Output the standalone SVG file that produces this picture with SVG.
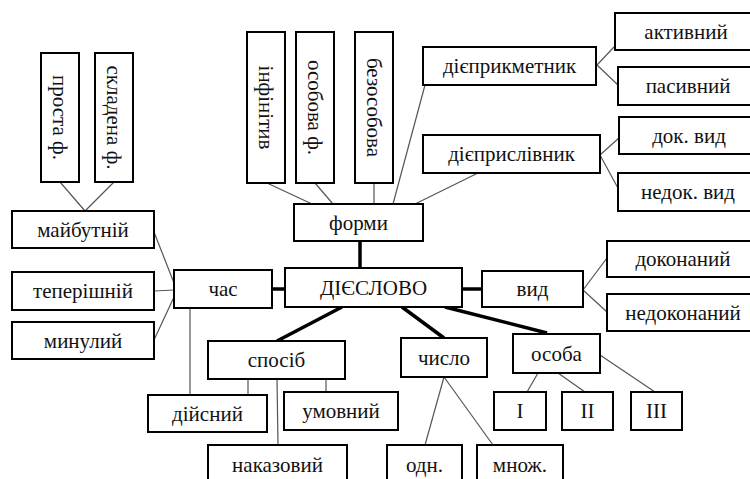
<svg xmlns="http://www.w3.org/2000/svg" width="750" height="479" viewBox="0 0 750 479" font-family="'Liberation Serif', 'DejaVu Serif', serif" font-size="21">
<style>
.box{fill:#fff;stroke:#000;stroke-width:2}
.t{font-family:'Liberation Serif','DejaVu Serif',serif;font-size:21px;fill:#111;text-anchor:middle}
.thin{stroke:#555;stroke-width:1.2;fill:none}
.thick{stroke:#000;stroke-width:3.5;fill:none}
</style>
<rect width="750" height="479" fill="#fff"/>
<g id="connectors">
<g class="thin">
<line x1="60" y1="182" x2="85" y2="211"/>
<line x1="114" y1="182" x2="85" y2="211"/>
<line x1="154" y1="232" x2="174" y2="283"/>
<line x1="154" y1="291" x2="174" y2="290"/>
<line x1="154" y1="340" x2="174" y2="297"/>
<line x1="190" y1="308" x2="190" y2="395"/>
<line x1="267" y1="183" x2="312" y2="204"/>
<line x1="315" y1="183" x2="333" y2="204"/>
<line x1="374" y1="183" x2="374" y2="204"/>
<line x1="425" y1="85" x2="393" y2="204"/>
<line x1="478" y1="173" x2="415" y2="204"/>
<line x1="597" y1="65" x2="614" y2="47"/>
<line x1="597" y1="65" x2="619" y2="86"/>
<line x1="600" y1="155" x2="620" y2="137"/>
<line x1="600" y1="155" x2="619" y2="190"/>
<line x1="583" y1="290" x2="607" y2="258"/>
<line x1="583" y1="290" x2="607" y2="312"/>
<line x1="248" y1="379" x2="248" y2="395"/>
<line x1="326" y1="379" x2="326" y2="392"/>
<line x1="277" y1="379" x2="278" y2="445"/>
<line x1="444" y1="377" x2="425" y2="445"/>
<line x1="444" y1="377" x2="493" y2="445"/>
<line x1="538" y1="373" x2="527" y2="392"/>
<line x1="558" y1="373" x2="585" y2="392"/>
<line x1="600" y1="355" x2="655" y2="392"/>
</g>
<g class="thick">
<line x1="360" y1="241" x2="360" y2="268"/>
<line x1="272" y1="289" x2="285" y2="289"/>
<line x1="462" y1="289" x2="482" y2="289"/>
<line x1="342" y1="307" x2="277" y2="341"/>
<line x1="402" y1="307" x2="444" y2="338"/>
<line x1="445" y1="307" x2="547" y2="333"/>
</g>
</g>
<g id="prosta"><rect class="box" x="41" y="53" width="38" height="129"/><text class="t" transform="translate(60,117.5) rotate(90)" y="7">проста ф.</text></g>
<g id="skladena"><rect class="box" x="95" y="53" width="38" height="129"/><text class="t" transform="translate(114,117.5) rotate(90)" y="7">складена ф.</text></g>
<g id="infinityv"><rect class="box" x="247" y="32" width="38" height="151"/><text class="t" transform="translate(266,107.5) rotate(90)" y="7">інфінітив</text></g>
<g id="osobova"><rect class="box" x="296" y="32" width="38" height="151"/><text class="t" transform="translate(315,107.5) rotate(90)" y="7">особова ф.</text></g>
<g id="bezosobova"><rect class="box" x="355" y="32" width="38" height="151"/><text class="t" transform="translate(374,107.5) rotate(90)" y="7">безособова</text></g>
<g id="formy"><rect class="box" x="294" y="204" width="129" height="37"/><text class="t" x="358.5" y="230">форми</text></g>
<g id="diieprykmetnyk"><rect class="box" x="423" y="47" width="173" height="38"/><text class="t" x="509.5" y="73">дієприкметник</text></g>
<g id="diieprysl"><rect class="box" x="423" y="135" width="177" height="38"/><text class="t" x="511.5" y="161">дієприслівник</text></g>
<g id="aktyvnyi"><rect class="box" x="615" y="13" width="142" height="37"/><text class="t" x="686" y="39">активний</text></g>
<g id="pasyvnyi"><rect class="box" x="618" y="67" width="140" height="38"/><text class="t" x="688" y="93">пасивний</text></g>
<g id="dokvyd"><rect class="box" x="619" y="117" width="140" height="37"/><text class="t" x="689" y="143">док. вид</text></g>
<g id="nedokvyd"><rect class="box" x="618" y="173" width="140" height="38"/><text class="t" x="688" y="199">недок. вид</text></g>
<g id="maibutnii"><rect class="box" x="12" y="211" width="142" height="37"/><text class="t" x="83" y="237">майбутній</text></g>
<g id="teperishnii"><rect class="box" x="12" y="272" width="142" height="38"/><text class="t" x="83" y="298">теперішній</text></g>
<g id="mynulyi"><rect class="box" x="12" y="322" width="142" height="37"/><text class="t" x="83" y="348">минулий</text></g>
<g id="chas"><rect class="box" x="174" y="270" width="98" height="38"/><text class="t" x="223" y="296">час</text></g>
<g id="dieslovo"><rect class="box" x="285" y="268" width="177" height="39"/><text class="t" x="373.5" y="295">ДІЄСЛОВО</text></g>
<g id="vyd"><rect class="box" x="482" y="271" width="101" height="36"/><text class="t" x="532.5" y="296">вид</text></g>
<g id="dokonanyi"><rect class="box" x="607" y="241" width="151" height="36"/><text class="t" x="683" y="266">доконаний</text></g>
<g id="nedokonanyi"><rect class="box" x="607" y="294" width="151" height="37"/><text class="t" x="683" y="320">недоконаний</text></g>
<g id="sposib"><rect class="box" x="208" y="341" width="137" height="38"/><text class="t" x="276.5" y="367">спосіб</text></g>
<g id="diisnyi"><rect class="box" x="148" y="395" width="119" height="37"/><text class="t" x="207.5" y="421">дійсний</text></g>
<g id="umovnyi"><rect class="box" x="284" y="392" width="114" height="38"/><text class="t" x="341" y="418">умовний</text></g>
<g id="nakazovyi"><rect class="box" x="208" y="445" width="139" height="42"/><text class="t" x="277.5" y="472">наказовий</text></g>
<g id="chyslo"><rect class="box" x="401" y="338" width="86" height="39"/><text class="t" x="444" y="365">число</text></g>
<g id="osoba"><rect class="box" x="513" y="334" width="87" height="39"/><text class="t" x="556.5" y="361">особа</text></g>
<g id="p1"><rect class="box" x="494" y="392" width="52" height="38"/><text class="t" x="520" y="418">I</text></g>
<g id="p2"><rect class="box" x="562" y="392" width="51" height="38"/><text class="t" x="587.5" y="418">II</text></g>
<g id="p3"><rect class="box" x="631" y="392" width="51" height="38"/><text class="t" x="656.5" y="418">III</text></g>
<g id="odn"><rect class="box" x="387" y="445" width="75" height="42"/><text class="t" x="424.5" y="472">одн.</text></g>
<g id="mnozh"><rect class="box" x="477" y="445" width="86" height="42"/><text class="t" x="520" y="472">множ.</text></g>
</svg>
